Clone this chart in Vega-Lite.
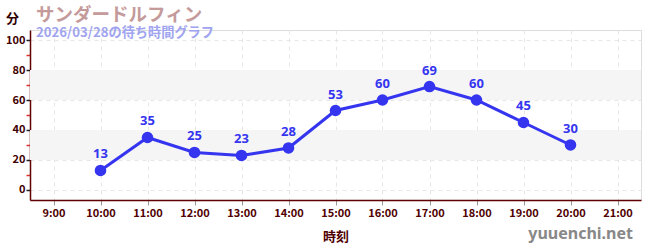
{
  "$schema": "https://vega.github.io/schema/vega-lite/v6.json",
  "autosize": {"type": "none"},
  "width": 611,
  "height": 170,
  "padding": {"left": 30, "top": 30, "right": 9, "bottom": 50},
  "background": "white",
  "config": {"axis": {"labelOverlap": false, "labelFlush": false}},
  "title": {
    "text": "サンダードルフィン",
    "subtitle": "\u00a0\u00a02026/03/28の待ち時間グラフ",
    "anchor": "start",
    "frame": "group",
    "orient": "top",
    "offset": -27,
    "dx": 6,
    "font": "Noto Sans CJK JP",
    "fontSize": 18.5,
    "fontWeight": "bold",
    "color": "#c49a9a",
    "subtitleFont": "Noto Sans CJK JP",
    "subtitleFontSize": 13.2,
    "subtitleFontWeight": "bold",
    "subtitleColor": "#a0a4f0",
    "subtitlePadding": 2
  },
  "datasets": {
    "wait": [
      {"hour": 10, "wait": 13},
      {"hour": 11, "wait": 35},
      {"hour": 12, "wait": 25},
      {"hour": 13, "wait": 23},
      {"hour": 14, "wait": 28},
      {"hour": 15, "wait": 53},
      {"hour": 16, "wait": 60},
      {"hour": 17, "wait": 69},
      {"hour": 18, "wait": 60},
      {"hour": 19, "wait": 45},
      {"hour": 20, "wait": 30}
    ],
    "bands": [
      {"lo": 20, "hi": 40},
      {"lo": 60, "hi": 80}
    ],
    "site": [
      {"label": "yuuenchi.net", "hour": 21.5, "wait": -6.7}
    ]
  },
  "encoding": {
    "x": {
      "field": "hour",
      "type": "quantitative",
      "scale": {"domain": [8.5, 21.5], "nice": false, "zero": false},
      "axis": {
        "values": [9, 10, 11, 12, 13, 14, 15, 16, 17, 18, 19, 20, 21],
        "labelExpr": "datum.value + ':00'",
        "labelOverlap": false,
        "title": "時刻",
        "titleFont": "Noto Sans CJK JP",
        "titleFontSize": 13,
        "titleFontWeight": "bold",
        "titleColor": "#500000",
        "titlePadding": 12,
        "labelFont": "Noto Sans CJK JP",
        "labelFontSize": 11,
        "labelFontWeight": "bold",
        "labelColor": "#500000",
        "labelPadding": 2,
        "domainColor": "#600000",
        "domainWidth": 1.5,
        "tickColor": "#999999",
        "tickSize": 5,
        "grid": true,
        "gridColor": "#e6e6e6",
        "gridDash": [4, 4]
      }
    },
    "y": {
      "field": "wait",
      "type": "quantitative",
      "scale": {"domain": [-6.7, 106.7], "nice": false, "zero": false},
      "axis": {
        "values": [0, 10, 20, 30, 40, 50, 60, 70, 80, 90, 100],
        "labelExpr": "datum.value % 20 === 0 ? datum.label : ''",
        "labelOverlap": false,
        "labelFlush": false,
        "title": "分",
        "titleAngle": 0,
        "titleAnchor": "end",
        "titleAlign": "center",
        "titleBaseline": "bottom",
        "titleX": -18,
        "titleY": -5,
        "titleFont": "Noto Sans CJK JP",
        "titleFontSize": 13,
        "titleFontWeight": "bold",
        "titleColor": "#300000",
        "labelFont": "Noto Sans CJK JP",
        "labelFontSize": 11,
        "labelFontWeight": "bold",
        "labelColor": "#400000",
        "labelPadding": 1,
        "domainColor": "#600000",
        "domainWidth": 1.5,
        "tickColor": {"condition": {"test": "datum.value % 20 === 0", "value": "#222222"}, "value": "#e03030"},
        "tickSize": 4,
        "tickWidth": 1.5,
        "grid": true,
        "gridColor": "#e6e6e6",
        "gridDash": [4, 4],
        "gridOpacity": {"condition": {"test": "datum.value % 20 === 0", "value": 1}, "value": 0}
      }
    }
  },
  "layer": [
    {
      "data": {"name": "bands"},
      "mark": {"type": "rect", "color": "#f5f5f5"},
      "encoding": {
        "x": null,
        "y": {"field": "lo", "type": "quantitative"},
        "y2": {"field": "hi"}
      }
    },
    {
      "data": {"name": "wait"},
      "mark": {"type": "line", "color": "#3535f0", "strokeWidth": 3}
    },
    {
      "data": {"name": "wait"},
      "mark": {"type": "point", "filled": true, "opacity": 1, "color": "#3535f0", "size": 135}
    },
    {
      "data": {"name": "wait"},
      "mark": {"type": "text", "color": "#3535f0", "font": "Noto Sans", "fontSize": 13, "fontWeight": "bold", "dy": -16},
      "encoding": {
        "text": {"field": "wait", "type": "quantitative"}
      }
    },
    {
      "data": {"name": "site"},
      "mark": {"type": "text", "color": "#888888", "font": "Noto Sans", "fontSize": 16, "fontWeight": "bold", "align": "right", "baseline": "middle", "dy": 34, "dx": -8, "clip": false},
      "encoding": {
        "text": {"field": "label"}
      }
    }
  ]
}
